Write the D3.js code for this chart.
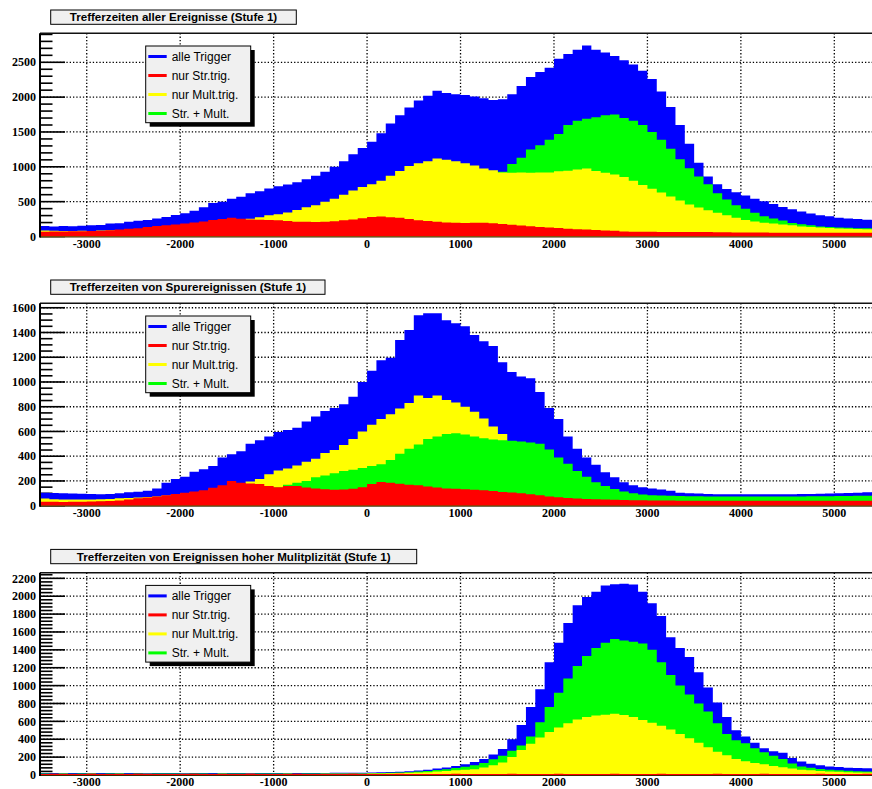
<!DOCTYPE html>
<html><head><meta charset="utf-8">
<script src="https://cdn.jsdelivr.net/npm/d3@7"></script>
<style>body{margin:0;background:#fff}svg{display:block}</style>
</head><body><svg id="c" width="872" height="789"></svg>
<script>
// ---------- data ----------
const binStart = -3500, binWidth = 100;
const xTicks = [-3000,-2000,-1000,0,1000,2000,3000,4000,5000];
const seriesNames = ["alle Trigger","nur Str.trig.","nur Mult.trig.","Str. + Mult."];
const seriesColors = ["#0000ff","#ff0000","#ffff00","#00ff00"];
const titles = ["Trefferzeiten aller Ereignisse (Stufe 1)",
                "Trefferzeiten von Spurereignissen (Stufe 1)",
                "Trefferzeiten von Ereignissen hoher Mulitplizität (Stufe 1)"];
const yMaxes = [2916, 1636, 2263];
const yMajorSteps = [500, 200, 200];
const yMinorSteps = [100, 50, 40];

// Panel 1: alle Ereignisse
const p1All = [150,145,150,148,155,160,165,185,190,210,
  225,235,258,280,310,335,370,420,480,500,
  540,570,620,650,690,720,745,780,820,870,
  930,1000,1080,1180,1270,1360,1480,1620,1740,1850,
  1950,2020,2090,2060,2040,2030,2010,1985,1960,1970,
  2040,2160,2290,2360,2420,2550,2620,2680,2740,2680,
  2640,2590,2530,2470,2380,2260,2080,1860,1600,1330,
  1060,860,750,680,635,590,540,505,465,425,
  390,360,330,305,290,270,260,250,240,235];
const p1Str = [68,70,72,74,75,78,82,90,100,110,
  120,135,149,160,172,185,200,215,235,250,
  270,255,245,240,236,232,222,212,210,208,
  210,220,232,245,262,280,288,278,268,250,
  232,222,210,202,196,195,198,196,190,178,
  168,158,148,138,130,122,112,105,100,92,
  86,82,72,68,68,68,66,66,65,65,
  64,63,62,60,58,58,57,56,55,55,
  54,54,54,54,54,54,54,53,53,53];
const p1Mult = [85,82,80,80,82,80,85,88,92,100,
  108,115,125,135,150,160,175,190,205,215,
  230,240,255,275,305,320,345,380,420,450,
  500,540,600,660,710,750,800,870,940,1010,
  1050,1080,1120,1100,1080,1050,1020,975,950,920,
  915,920,915,920,918,935,945,960,975,940,
  915,890,855,800,740,685,630,575,515,460,
  415,375,340,305,270,235,215,198,187,172,
  160,145,137,130,122,116,112,108,104,100];
const p1Both = [20,20,22,22,25,25,28,30,32,35,
  40,45,50,55,60,70,80,90,100,110,
  120,130,140,150,160,170,180,200,220,240,
  260,280,300,330,360,390,420,450,480,520,
  560,600,640,680,720,760,800,840,880,930,
  1040,1130,1250,1310,1390,1470,1600,1660,1690,1710,
  1740,1750,1700,1660,1600,1500,1390,1260,1110,980,
  860,750,620,530,450,400,340,290,260,230,
  195,175,160,145,138,130,125,120,117,115];

// Panel 2: Spurereignisse
const p2All = [104,102,100,98,97,95,93,95,100,108,
  112,120,139,185,215,235,275,295,320,390,
  415,440,500,530,560,595,612,630,680,720,
  765,790,820,880,1000,1090,1175,1195,1340,1420,
  1540,1555,1555,1500,1475,1450,1380,1330,1290,1160,
  1080,1045,1030,920,790,700,560,460,390,330,
  270,230,190,165,150,140,130,120,105,100,
  98,95,93,92,92,92,93,92,92,93,
  93,94,95,96,98,100,102,105,108,110];
const p2Str = [31,31,30,31,32,33,35,38,42,50,
  60,66,75,85,95,105,115,125,145,165,
  200,185,180,175,160,150,160,160,148,140,
  132,128,130,138,150,175,192,185,178,170,
  165,155,148,140,138,132,128,125,118,110,
  106,100,92,85,75,68,62,58,55,52,
  50,48,46,45,44,43,42,42,41,41,
  40,40,40,40,40,40,40,40,40,40,
  40,40,40,40,40,40,40,40,40,40];
const p2Mult = [58,52,50,50,50,50,52,55,60,62,
  66,70,75,82,90,98,108,118,130,145,
  160,175,195,215,255,285,300,325,355,380,
  425,450,490,540,600,655,700,740,785,830,
  890,870,890,855,835,800,760,705,640,580,
  520,460,400,340,290,240,200,170,140,120,
  100,90,82,78,74,72,70,70,68,68,
  68,67,67,66,66,66,66,66,66,67,
  67,67,68,68,68,69,70,70,71,72];
const p2Both = [28,28,28,29,30,30,32,34,38,42,
  50,55,62,70,78,85,95,105,115,125,
  135,140,150,155,150,148,170,185,200,230,
  245,262,280,290,305,320,335,370,420,460,
  495,540,560,580,585,575,560,545,535,530,
  525,518,510,500,455,390,340,280,235,190,
  160,135,115,100,90,85,82,80,78,77,
  76,75,75,74,74,74,74,74,74,75,
  75,75,76,76,77,78,79,80,80,82];

// Panel 3: hohe Multiplizitaet
const p3All = [22,22,21,22,23,22,21,22,22,23,
  22,21,22,22,22,23,22,21,22,22,
  22,22,23,22,22,22,22,23,22,22,
  23,24,24,25,26,28,30,33,37,42,
  50,60,72,85,100,120,145,180,230,290,
  400,560,760,960,1260,1480,1700,1900,1990,2050,
  2120,2135,2140,2130,2050,1920,1780,1540,1420,1320,
  1150,980,810,650,500,430,360,300,265,250,
  190,150,125,108,96,90,82,78,75,73];
const p3Str = [12,13,12,11,12,13,12,12,11,12,
  13,12,12,11,12,12,13,12,12,11,
  12,12,13,12,11,12,12,13,12,12,
  11,12,12,13,12,12,11,12,13,12,
  12,11,12,12,13,12,12,11,12,12,
  13,12,12,11,12,13,12,12,11,12,
  12,13,12,11,12,12,13,12,12,11,
  12,12,13,12,11,12,12,13,12,12,
  11,12,12,13,12,12,11,12,13,12];
const p3Mult = [12,12,13,12,12,13,12,12,13,12,
  12,13,12,12,12,13,12,12,12,13,
  12,12,13,12,12,12,13,12,12,12,
  13,13,14,14,15,16,18,20,22,25,
  28,32,38,44,52,60,65,85,110,140,
  200,280,350,420,480,530,580,620,650,665,
  675,685,670,650,615,585,550,510,460,410,
  360,310,260,220,180,155,135,120,100,88,
  72,60,52,45,40,36,32,29,27,26];
const p3Both = [16,15,16,15,16,16,15,16,16,15,
  16,15,16,16,16,15,16,16,15,16,
  16,16,15,16,16,16,16,15,16,16,
  16,17,17,18,18,20,22,25,28,32,
  38,45,55,65,78,92,108,135,175,215,
  270,330,430,590,760,920,1080,1220,1330,1420,
  1480,1520,1505,1490,1470,1400,1260,1120,1000,900,
  800,710,580,460,390,355,300,255,215,180,
  130,95,80,68,58,52,47,42,38,36];

const panelsData = [
  {all:p1All, str:p1Str, mult:p1Mult, both:p1Both},
  {all:p2All, str:p2Str, mult:p2Mult, both:p2Both},
  {all:p3All, str:p3Str, mult:p3Mult, both:p3Both}
];
// drawing order of the overlaid histograms in each panel
const drawOrders = [
  ["all","both","mult","str"],
  ["all","mult","both","str"],
  ["all","both","mult","str"]
];
const colorOf = {all:seriesColors[0], str:seriesColors[1], mult:seriesColors[2], both:seriesColors[3]};

// ---------- layout ----------
const panelTops = [33.3, 303.3, 572.7];
const panelBottoms = [236.5, 505.7, 775];
const titleWidths = [245.6, 274.3, 366];
const plotLeft = 40;

const svg = d3.select("#c");
svg.append("rect").attr("width",872).attr("height",789).attr("fill","#fff");

const x = d3.scaleLinear().domain([-3500, 5500]).range([plotLeft, plotLeft + 9000*0.09345]);

panelsData.forEach((pd, pi) => {
  const top = panelTops[pi], bot = panelBottoms[pi];
  const y = d3.scaleLinear().domain([0, yMaxes[pi]]).range([bot, top]);
  const g = svg.append("g");
  const majors = d3.range(0, yMaxes[pi] + 1e-6, yMajorSteps[pi]);
  const minors = d3.range(0, yMaxes[pi] + 1e-6, yMinorSteps[pi]).filter(v => Math.abs(v % yMajorSteps[pi]) > 1e-6);

  // grid
  g.selectAll(".gx").data(xTicks).join("line")
    .attr("x1", d => x(d)).attr("x2", d => x(d))
    .attr("y1", top).attr("y2", bot)
    .attr("stroke", "#000").attr("stroke-width", 1.3).attr("stroke-dasharray", "1.3,2");
  g.selectAll(".gy").data(majors.filter(v => v > 0)).join("line")
    .attr("x1", plotLeft).attr("x2", 872)
    .attr("y1", d => y(d)).attr("y2", d => y(d))
    .attr("stroke", "#000").attr("stroke-width", 1.3).attr("stroke-dasharray", "1.3,2");

  // y ticks
  g.selectAll(".tM").data(majors).join("line")
    .attr("x1", plotLeft).attr("x2", plotLeft + 25)
    .attr("y1", d => y(d)).attr("y2", d => y(d))
    .attr("stroke", "#000").attr("stroke-width", 1.6);
  g.selectAll(".tm").data(minors).join("line")
    .attr("x1", plotLeft).attr("x2", plotLeft + 12.5)
    .attr("y1", d => y(d)).attr("y2", d => y(d))
    .attr("stroke", "#000").attr("stroke-width", 1.6);

  // histograms (overlaid)
  drawOrders[pi].forEach(key => {
    const vals = pd[key];
    const pts = vals.map((v, i) => [binStart + i*binWidth, v]);
    pts.push([binStart + vals.length*binWidth, vals[vals.length-1]]);
    const area = d3.area().x(d => x(d[0])).y0(y(0)).y1(d => y(d[1])).curve(d3.curveStepAfter);
    g.append("path").attr("d", area(pts)).attr("fill", colorOf[key]).attr("stroke", "none");
  });

  // frame
  g.append("line").attr("x1", plotLeft).attr("x2", 872).attr("y1", top).attr("y2", top)
    .attr("stroke", "#111").attr("stroke-width", 1.5);
  g.append("line").attr("x1", plotLeft).attr("x2", 872).attr("y1", bot+0.5).attr("y2", bot+0.5)
    .attr("stroke", "#3a2a00").attr("stroke-width", 1);
  g.append("line").attr("x1", plotLeft).attr("x2", plotLeft).attr("y1", top).attr("y2", bot+1)
    .attr("stroke", "#000").attr("stroke-width", 2);

  // y labels
  g.selectAll(".yl").data(majors).join("text")
    .attr("x", 36).attr("y", d => y(d)).attr("dy", "0.35em")
    .attr("text-anchor", "end")
    .attr("font-family", "Liberation Serif, serif").attr("font-weight", "bold").attr("font-size", 12)
    .text(d => d);
  // x labels
  g.selectAll(".xl").data(xTicks).join("text")
    .attr("x", d => x(d)).attr("y", bot + 7.2).attr("dy", "0.35em")
    .attr("text-anchor", "middle")
    .attr("font-family", "Liberation Serif, serif").attr("font-weight", "bold").attr("font-size", 12)
    .text(d => d);

  // title box
  const ty = top - 23.3;
  g.append("rect").attr("x", 50.7).attr("y", ty).attr("width", titleWidths[pi]).attr("height", 14.3)
    .attr("fill", "#f0f0f0").attr("stroke", "#000").attr("stroke-width", 1);
  g.append("text").attr("x", 50.7 + titleWidths[pi]/2).attr("y", ty + 7.3).attr("dy", "0.35em")
    .attr("text-anchor", "middle")
    .attr("font-family", "Liberation Sans, Arial, sans-serif").attr("font-weight", "bold").attr("font-size", 11.6)
    .text(titles[pi]);

  // legend
  const lx = 145.7, ly = top + 12.7, lw = 105, lh = 76.7;
  g.append("rect").attr("x", lx + 4).attr("y", ly + 4).attr("width", lw).attr("height", lh).attr("fill", "#000");
  g.append("rect").attr("x", lx).attr("y", ly).attr("width", lw).attr("height", lh)
    .attr("fill", "#f0f0f0").attr("stroke", "#000").attr("stroke-width", 1);
  seriesNames.forEach((name, k) => {
    const ey = ly + 10.5 + 19*k;
    g.append("line").attr("x1", lx + 2.6).attr("x2", lx + 21).attr("y1", ey).attr("y2", ey)
      .attr("stroke", seriesColors[k]).attr("stroke-width", 3);
    g.append("text").attr("x", lx + 26).attr("y", ey).attr("dy", "0.35em")
      .attr("font-family", "Liberation Sans, Arial, sans-serif").attr("font-size", 12)
      .text(name);
  });
});
</script></body></html>
